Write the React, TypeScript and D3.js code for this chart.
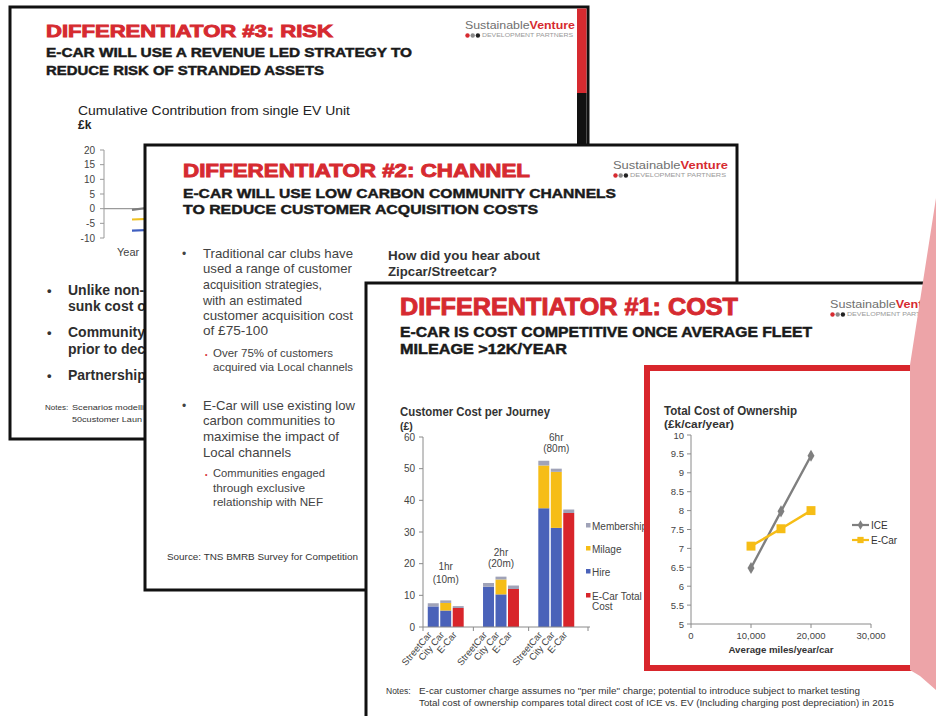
import React from "react";
import * as d3 from "d3";

const FONT = "'Liberation Sans', Arial, Helvetica, sans-serif";
const RED = "#d62a30";
const INK = "#1a1a1a";
const BODY = "#434343";

// ---- Slide 3 (Risk) chart data ----
const riskTicks = [20, 15, 10, 5, 0, -5, -10];
const riskYears = [0, 1];
const riskScenarioA = [-0.4, 0.9];
const riskScenarioB = [-3.7, -3.3];
const riskScenarioC = [-7.5, -7.1];

// ---- Slide 1 bar chart data (Customer Cost per Journey, £) ----
const journeyTop = ["1hr", "2hr", "6hr"];
const journeyBottom = ["(10m)", "(20m)", "(80m)"];
const operators = ["StreetCar", "City Car", "E-Car"];
const hireValues = [6.5, 5.2, 0, 12.7, 10.3, 0, 37.5, 31.3, 0];
const ecarValues = [0, 0, 6.0, 0, 0, 12.0, 0, 0, 36.0];
const milageValues = [0, 2.4, 0, 0, 4.7, 0, 13.5, 17.7, 0];
const membershipValues = [1.0, 0.8, 0.6, 1.2, 0.9, 1.1, 1.5, 1.0, 1.1];
const costTicks = [0, 10, 20, 30, 40, 50, 60];
const costLegend = ["Membership", "Milage", "Hire", "E-Car Total"];

// ---- Slide 1 line chart data (Total Cost of Ownership, £k/car/year) ----
const miles = [10000, 15000, 20000];
const iceTco = [6.48, 7.98, 9.45];
const ecarTco = [7.06, 7.52, 8.0];
const tcoTicks = [5, 5.5, 6, 6.5, 7, 7.5, 8, 8.5, 9, 9.5, 10];
const mileTicks = [0, 10000, 20000, 30000];

const HIRE = "#4a62b9";
const MILAGE = "#f6bd16";
const MEMBER = "#a0a3b8";
const ECAR = "#d8252b";
const ICE = "#7f7f7f";

function Txt(p: any) {
  const { x, y, w, size = 12, weight = "normal", fill = INK, anchor = "start", stroke, sw, children, transform } = p;
  return (
    <text
      x={x}
      y={y}
      fontSize={size}
      fontWeight={weight}
      fill={fill}
      textAnchor={anchor}
      fontFamily={FONT}
      textLength={w}
      lengthAdjust={w ? "spacingAndGlyphs" : undefined}
      stroke={stroke}
      strokeWidth={sw}
      transform={transform}
    >
      {children}
    </text>
  );
}

function Logo({ x, y, w, size = 11 }: any) {
  return (
    <g>
      <text x={x} y={y} fontSize={size} fontFamily={FONT} textLength={w} lengthAdjust="spacingAndGlyphs">
        <tspan fill="#707070">Sustainable</tspan>
        <tspan fill={RED} fontWeight="bold">Venture</tspan>
      </text>
      {[RED, "#8a8a8a", "#222"].map((c, i) => (
        <circle key={i} cx={x + 2.5 + i * 5.2} cy={y + 6.5} r={2.2} fill={c} />
      ))}
      <text x={x + 17} y={y + 8.3} fontSize={4.6} fill="#9a9a9a" fontFamily={FONT} textLength={w - 19} lengthAdjust="spacingAndGlyphs">
        DEVELOPMENT PARTNERS
      </text>
    </g>
  );
}

function Title({ x, y, w, size, children }: any) {
  return <Txt x={x} y={y} w={w} size={size} weight="bold" fill={RED} stroke={RED} sw={0.9}>{children}</Txt>;
}
function Sub({ x, y, w, size, children }: any) {
  return <Txt x={x} y={y} w={w} size={size} weight="bold" fill={INK} stroke={INK} sw={0.45}>{children}</Txt>;
}

function RiskSlide() {
  const yR = d3.scaleLinear().domain([-10, 20]).range([238, 150]);
  const xR = d3.scaleLinear().domain([0, 1]).range([132, 162]);
  const line = d3.line<number>().x((_, i) => xR(riskYears[i])).y((d) => yR(d));
  const series = [
    { v: riskScenarioA, c: "#7d7d7d" },
    { v: riskScenarioB, c: "#eec020" },
    { v: riskScenarioC, c: "#3f5fc0" },
  ];
  const bullets = [
    { y: 295, t: "Unlike non-" },
    { y: 311, t: "sunk cost o", nb: true },
    { y: 337, t: "Community" },
    { y: 354, t: "prior to dec", nb: true },
    { y: 380, t: "Partnership" },
  ];
  return (
    <g>
      <rect x={10} y={7} width={578} height={432} fill="#fff" stroke="#111" strokeWidth={3} />
      <rect x={577} y={8.5} width={9.5} height={85} fill={RED} />
      <rect x={577} y={93} width={9.5} height={60} fill="#111" />
      <Title x={46} y={37} w={287} size={17}>DIFFERENTIATOR #3: RISK</Title>
      <Sub x={46} y={57} w={366} size={12.5}>E-CAR WILL USE A REVENUE LED STRATEGY TO</Sub>
      <Sub x={46} y={75} w={278} size={12.5}>REDUCE RISK OF STRANDED ASSETS</Sub>
      <Logo x={465} y={29} w={110} />
      <Txt x={78} y={115} w={272} size={12.5} fill="#222">Cumulative Contribution from single EV Unit</Txt>
      <Txt x={78} y={129} size={12} fill="#222" weight="bold">£k</Txt>
      <line x1={104} x2={104} y1={yR(20)} y2={yR(-10)} stroke="#999" strokeWidth={1} />
      {riskTicks.map((t) => (
        <g key={t}>
          <line x1={100} x2={104} y1={yR(t)} y2={yR(t)} stroke="#999" />
          <Txt x={95} y={yR(t) + 3.5} size={10} anchor="end" fill="#444">{t}</Txt>
        </g>
      ))}
      <line x1={104} x2={150} y1={yR(0)} y2={yR(0)} stroke="#9a9a9a" strokeWidth={1.2} />
      {series.map((s, i) => (
        <path key={i} d={line(s.v) || ""} fill="none" stroke={s.c} strokeWidth={2.2} />
      ))}
      <Txt x={117} y={256} size={11} fill="#444">Year</Txt>
      {bullets.map((b, i) => (
        <g key={i}>
          {!b.nb && <Txt x={47} y={b.y} size={13} fill="#333" weight="bold">•</Txt>}
          <Txt x={68} y={b.y} size={14} fill="#2e2e2e" weight="bold">{b.t}</Txt>
        </g>
      ))}
      <Txt x={45} y={410} size={8} fill="#333">Notes:</Txt>
      <Txt x={72} y={410} w={72} size={8} fill="#333">Scenarios  modelli</Txt>
      <Txt x={72} y={422} w={70} size={8} fill="#333">50customer  Laun</Txt>
    </g>
  );
}

function ChannelSlide() {
  const lines1 = [
    { y: 258, t: "Traditional car clubs have", w: 150 },
    { y: 273, t: "used a range of customer", w: 149 },
    { y: 289, t: "acquisition strategies,", w: 119 },
    { y: 305, t: "with an estimated", w: 99 },
    { y: 320, t: "customer acquisition cost", w: 150 },
    { y: 335, t: "of £75-100", w: 65 },
  ];
  const sub1 = [
    { y: 357, t: "Over 75% of customers", w: 120 },
    { y: 371, t: "acquired  via Local channels", w: 140 },
  ];
  const lines2 = [
    { y: 410, t: "E-Car  will use existing low", w: 152 },
    { y: 425, t: "carbon communities to", w: 132 },
    { y: 441, t: "maximise  the impact of", w: 136 },
    { y: 457, t: "Local channels", w: 88 },
  ];
  const sub2 = [
    { y: 477, t: "Communities engaged", w: 112 },
    { y: 492, t: "through exclusive", w: 92 },
    { y: 506, t: "relationship with NEF", w: 110 },
  ];
  return (
    <g>
      <rect x={145} y={145} width={592} height={445} fill="#fff" stroke="#111" strokeWidth={3} />
      <Title x={183} y={177} w={347} size={18}>DIFFERENTIATOR #2: CHANNEL</Title>
      <Sub x={183} y={198} w={433} size={13.5}>E-CAR WILL USE LOW CARBON COMMUNITY CHANNELS</Sub>
      <Sub x={183} y={214} w={355} size={13.5}>TO REDUCE CUSTOMER ACQUISITION COSTS</Sub>
      <Logo x={613} y={169} w={115} />
      <Txt x={182} y={258} size={12} fill={BODY}>•</Txt>
      {lines1.map((l, i) => (
        <Txt key={i} x={203} y={l.y} w={l.w} size={13} fill={BODY}>{l.t}</Txt>
      ))}
      {sub1.map((l, i) => (
        <g key={i}>
          {i === 0 && <Txt x={205} y={l.y} size={7} fill={RED}>•</Txt>}
          <Txt x={213} y={l.y} w={l.w} size={10.5} fill={BODY}>{l.t}</Txt>
        </g>
      ))}
      <Txt x={182} y={410} size={12} fill={BODY}>•</Txt>
      {lines2.map((l, i) => (
        <Txt key={i} x={203} y={l.y} w={l.w} size={13} fill={BODY}>{l.t}</Txt>
      ))}
      {sub2.map((l, i) => (
        <g key={i}>
          {i === 0 && <Txt x={205} y={l.y} size={7} fill={RED}>•</Txt>}
          <Txt x={213} y={l.y} w={l.w} size={10.5} fill={BODY}>{l.t}</Txt>
        </g>
      ))}
      <Txt x={167} y={560} w={191} size={8.5} fill="#333">Source:   TNS BMRB Survey  for Competition</Txt>
      <Txt x={388} y={260} w={152} size={13.5} fill="#333" weight="bold">How did you hear about</Txt>
      <Txt x={388} y={276} w={109} size={13.5} fill="#333" weight="bold">Zipcar/Streetcar?</Txt>
    </g>
  );
}

function CostBars() {
  const yC = d3.scaleLinear().domain([0, 60]).range([627, 437]);
  const xG = d3.scaleBand<string>().domain(journeyTop).range([425, 577]).paddingInner(0.35).paddingOuter(0.05);
  const xO = d3.scaleBand<string>().domain(operators).range([0, xG.bandwidth()]).paddingInner(0.12);
  const rows = hireValues.map((v, i) => ({
    group: journeyTop[Math.floor(i / 3)],
    op: operators[i % 3],
    hire: v,
    ecar: ecarValues[i],
    milage: milageValues[i],
    membership: membershipValues[i],
  }));
  const keys = ["hire", "ecar", "milage", "membership"];
  const colors: any = { hire: HIRE, ecar: ECAR, milage: MILAGE, membership: MEMBER };
  const stacked = d3.stack<any>().keys(keys)(rows);
  const cx = (r: any) => (xG(r.group) as number) + (xO(r.op) as number) + xO.bandwidth() / 2;
  const lift = [21, 13, 12];
  const gap = [12.5, 11.5, 11.5];
  const legendColors = [MEMBER, MILAGE, HIRE, ECAR];
  const legendY = [526, 549, 572, 596];
  const xTicks = [423, ...journeyTop.slice(1).map((g) => (xG(g) as number) - (xG.step() * xG.paddingInner()) / 2), 588];
  return (
    <g>
      <Txt x={400} y={416} w={150} size={12} weight="bold" fill="#333">Customer Cost per Journey</Txt>
      <Txt x={400} y={430} size={10.5} weight="bold" fill="#333">(£)</Txt>
      <line x1={423} x2={423} y1={yC(60)} y2={yC(0)} stroke="#8a8a8a" />
      {costTicks.map((t) => (
        <g key={t}>
          <line x1={419} x2={423} y1={yC(t)} y2={yC(t)} stroke="#8a8a8a" />
          <Txt x={415} y={yC(t) + 3.5} size={10} anchor="end" fill="#444">{t}</Txt>
        </g>
      ))}
      {stacked.map((layer: any) => (
        <g key={layer.key} fill={colors[layer.key]}>
          {layer.map((d: any, i: number) =>
            d[1] - d[0] > 0 ? (
              <rect key={i} x={cx(rows[i]) - xO.bandwidth() / 2} y={yC(d[1])} width={xO.bandwidth()} height={yC(d[0]) - yC(d[1])} />
            ) : null
          )}
        </g>
      ))}
      <line x1={423} x2={590} y1={yC(0)} y2={yC(0)} stroke="#8a8a8a" />
      {xTicks.map((t, i) => (
        <line key={i} x1={t} x2={t} y1={yC(0)} y2={yC(0) + 4} stroke="#8a8a8a" />
      ))}
      {rows.map((r, i) => (
        <Txt key={i} x={0} y={0} size={9.5} anchor="end" fill="#444" transform={`translate(${cx(r) - 1},${yC(0) + 8}) rotate(-50)`}>
          {r.op}
        </Txt>
      ))}
      {journeyTop.map((g, gi) => {
        const top = d3.max(rows.filter((r) => r.group === g), (r: any) => keys.reduce((s, k) => s + r[k], 0)) as number;
        const c = (xG(g) as number) + xG.bandwidth() / 2;
        const yb = yC(top) - lift[gi];
        return (
          <g key={g}>
            <Txt x={c} y={yb - gap[gi] + 3.5} size={10} anchor="middle" fill="#444">{g}</Txt>
            <Txt x={c} y={yb + 3.5} size={10} anchor="middle" fill="#444">{journeyBottom[gi]}</Txt>
          </g>
        );
      })}
      {costLegend.map((l, i) => (
        <g key={l}>
          <rect x={586} y={legendY[i] - 3} width={4.5} height={4.5} fill={legendColors[i]} />
          <Txt x={592} y={legendY[i] + 3.5} size={10} fill="#444">{l}</Txt>
        </g>
      ))}
      <Txt x={592} y={610} size={10} fill="#444">Cost</Txt>
    </g>
  );
}

function TcoChart() {
  const xM = d3.scaleLinear().domain([0, 30000]).range([691, 871]);
  const yT = d3.scaleLinear().domain([5, 10]).range([624, 435]);
  const line = d3.line<number>().x((_, i) => xM(miles[i])).y((d) => yT(d));
  const diamond = d3.symbol().type(d3.symbolDiamond).size(42)();
  const square = d3.symbol().type(d3.symbolSquare).size(80)();
  const fmt = d3.format(",");
  return (
    <g>
      <Txt x={664} y={415} w={133} size={12} weight="bold" fill="#333">Total Cost of Ownership</Txt>
      <Txt x={664} y={428} w={70} size={10.5} weight="bold" fill="#333">(£k/car/year)</Txt>
      <line x1={691} x2={691} y1={yT(10)} y2={yT(5)} stroke="#8a8a8a" />
      {tcoTicks.map((t) => (
        <g key={t}>
          <line x1={687} x2={691} y1={yT(t)} y2={yT(t)} stroke="#8a8a8a" />
          <Txt x={684} y={yT(t) + 3.5} size={9.5} anchor="end" fill="#444">{t}</Txt>
        </g>
      ))}
      <line x1={691} x2={871} y1={yT(5)} y2={yT(5)} stroke="#8a8a8a" />
      {mileTicks.map((t) => (
        <g key={t}>
          <line x1={xM(t)} x2={xM(t)} y1={yT(5)} y2={yT(5) + 4} stroke="#8a8a8a" />
          <Txt x={xM(t)} y={yT(5) + 15} size={9.5} anchor="middle" fill="#444">{fmt(t)}</Txt>
        </g>
      ))}
      <Txt x={781} y={yT(5) + 29} w={105} size={9.5} anchor="middle" weight="bold" fill="#333">Average  miles/year/car</Txt>
      <path d={line(iceTco) || ""} fill="none" stroke={ICE} strokeWidth={2.4} />
      {iceTco.map((v, i) => (
        <path key={i} d={diamond || ""} transform={`translate(${xM(miles[i])},${yT(v)})`} fill={ICE} />
      ))}
      <path d={line(ecarTco) || ""} fill="none" stroke={MILAGE} strokeWidth={2.4} />
      {ecarTco.map((v, i) => (
        <path key={i} d={square || ""} transform={`translate(${xM(miles[i])},${yT(v)})`} fill={MILAGE} />
      ))}
      <line x1={852} x2={869} y1={525} y2={525} stroke={ICE} strokeWidth={2.2} />
      <path d={diamond || ""} transform="translate(860.5,525) scale(0.8)" fill={ICE} />
      <Txt x={871} y={529} size={10} fill="#333">ICE</Txt>
      <line x1={852} x2={869} y1={540} y2={540} stroke={MILAGE} strokeWidth={2.2} />
      <path d={square || ""} transform="translate(860.5,540) scale(0.7)" fill={MILAGE} />
      <Txt x={871} y={544} size={10} fill="#333">E-Car</Txt>
    </g>
  );
}

function CostSlide() {
  return (
    <g>
      <rect x={366} y={283} width={620} height={460} fill="#fff" stroke="#111" strokeWidth={3} />
      <Title x={400} y={315} w={338} size={23}>DIFFERENTIATOR #1: COST</Title>
      <Sub x={400} y={337} w={412} size={14}>E-CAR IS COST COMPETITIVE ONCE AVERAGE FLEET</Sub>
      <Sub x={400} y={354} w={167} size={14}>MILEAGE &gt;12K/YEAR</Sub>
      <Logo x={830} y={308} w={112} />
      <CostBars />
      <rect x={647} y={368} width={266} height={300} fill="#fff" stroke="#d8262c" strokeWidth={6} />
      <TcoChart />
      <Txt x={386} y={694} size={8.5} fill="#333">Notes:</Txt>
      <Txt x={419} y={694} w={441} size={8.5} fill="#333">
        E-car customer  charge  assumes  no  "per mile" charge; potential  to  introduce  subject  to  market  testing
      </Txt>
      <Txt x={419} y={706} w={475} size={8.5} fill="#333">
        Total cost of ownership compares  total direct cost of ICE vs.  EV  (Including charging post depreciation)  in 2015
      </Txt>
    </g>
  );
}

export default function App() {
  return (
    <svg width={936} height={716} viewBox="0 0 936 716" style={{ position: "absolute", left: 0, top: 0, display: "block", background: "#fff" }}>
      <rect x={0} y={0} width={936} height={716} fill="#fff" />
      <RiskSlide />
      <ChannelSlide />
      <CostSlide />
      <polygon points="936,198 910,365 910,670 920,676 936,690" fill="#eda4a8" />
    </svg>
  );
}
